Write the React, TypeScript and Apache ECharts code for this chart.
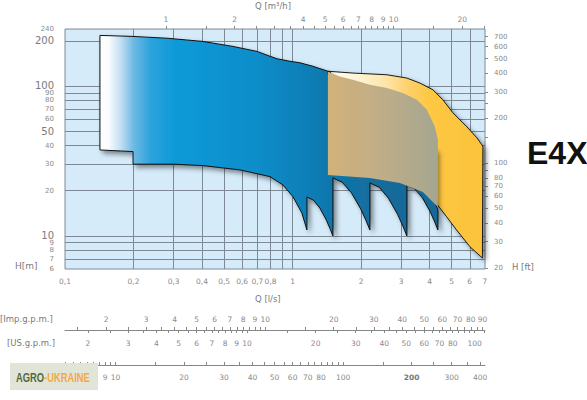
import React, { useEffect, useRef } from "react";
import * as echarts from "echarts";

// ---------- axis values ----------
const qLabelsLs = [0.1, 0.2, 0.3, 0.4, 0.5, 0.6, 0.7, 0.8, 1, 2, 3, 4, 5, 6, 7];
const qGridLs = [0.2, 0.3, 0.4, 0.5, 0.6, 0.7, 0.8, 0.9, 1, 2, 3, 4, 5, 6];
const hLabelsM = [6, 7, 8, 9, 10, 20, 30, 40, 50, 60, 70, 80, 90, 100, 200, 240];
const hBigM = [10, 50, 100, 200];
const hGridM = [7, 8, 9, 10, 20, 30, 40, 50, 60, 70, 80, 90, 100, 200];
const hLabelsFt = [20, 30, 40, 50, 60, 70, 80, 100, 200, 300, 400, 500, 600, 700];
const hTicksFt = [20, 30, 40, 50, 60, 70, 80, 90, 100, 150, 200, 250, 300, 400, 500, 600, 700];
const qLabelsM3h = [1, 2, 4, 5, 6, 7, 8, 9, 10, 20];
const qTicksM3h = [1, 1.5, 2, 2.5, 3, 3.5, 4, 4.5, 5, 5.5, 6, 6.5, 7, 7.5, 8, 8.5, 9, 9.5, 10, 15, 20, 25];
const impLabels = [2, 3, 4, 5, 6, 7, 8, 9, 10, 20, 30, 40, 50, 60, 70, 80, 90];
const impTicks = [1.5, 2, 2.5, 3, 3.5, 4, 4.5, 5, 5.5, 6, 6.5, 7, 7.5, 8, 8.5, 9, 9.5, 10, 15, 20, 25, 30, 35, 40, 45, 50, 55, 60, 65, 70, 75, 80, 85, 90];
const usLabels = [2, 3, 4, 5, 6, 7, 8, 9, 10, 20, 30, 40, 50, 60, 70, 80, 100];
const usTicks = [2, 2.5, 3, 3.5, 4, 4.5, 5, 5.5, 6, 6.5, 7, 7.5, 8, 8.5, 9, 9.5, 10, 15, 20, 25, 30, 35, 40, 45, 50, 55, 60, 65, 70, 75, 80, 85, 90, 95, 100, 110];
const lminLabels = [9, 10, 20, 30, 40, 50, 60, 70, 80, 100, 200, 300, 400];
const lminTicks = [6, 6.5, 7, 7.5, 8, 8.5, 9, 9.5, 10, 15, 20, 25, 30, 35, 40, 45, 50, 55, 60, 65, 70, 75, 80, 85, 90, 95, 100, 150, 200, 250, 300, 350, 400];

// ---------- curve data: [Q l/s, H m] ----------
const blueOutline = [
  [0.1424, 217.5], [0.199, 214.1], [0.2805, 208.3], [0.4036, 198.3], [0.5468, 183.6],
  [0.6969, 170.1], [0.7948, 157.9], [0.853, 152], [0.9729, 146.2], [1.077, 142.8],
  [1.228, 135.3], [1.429, 125.4],
  [1.489, 87.3], [4.26, 37.4], [4.26, 16.06], [4.347, 14.87],
  [4.347, 10.93], [4.213, 12.33], [4.022, 14.47], [3.716, 17.92], [3.438, 20.64], [3.177, 21.85],
  [3.177, 9.97], [3.06, 11.48], [2.894, 13.86], [2.635, 17.83], [2.401, 21.09], [2.185, 22.53],
  [2.185, 10.93], [2.105, 12.56], [1.991, 15.1], [1.812, 19.35], [1.651, 22.78], [1.503, 24.33],
  [1.503, 9.97], [1.464, 11.05], [1.407, 12.71], [1.318, 15.29], [1.234, 17.29], [1.156, 18.16],
  [1.156, 10.93], [1.098, 14.2], [1.003, 18.25], [0.9066, 21.85], [0.7948, 24.83],
  [0.5869, 27.53], [0.4036, 29.4], [0.3, 30.05], [0.199, 30.05], [0.199, 36.48], [0.1424, 37.4],
];
const tanPatch = [
  [1.429, 124.4], [1.613, 115.7], [1.84, 110], [2.185, 101.8], [2.595, 96.8], [3.051, 89.6],
  [3.515, 80.8], [3.89, 69.3], [4.216, 53.6], [4.347, 43.7], [4.347, 15.57],
  [3.735, 19.62], [2.96, 22.53], [2.185, 24.33], [1.429, 25.49],
];
const yellowEnvelope = [
  [1.429, 125.4], [1.84, 121.9], [2.595, 118.8], [3.177, 112.9], [3.624, 104.5], [4.132, 94.3],
  [4.572, 80.8], [5.058, 66.2], [5.83, 53.3], [6.449, 45.05], [6.784, 40.45], [6.853, 39.2],
  [6.818, 7.105], [6.009, 8.453], [5.252, 10.93], [4.747, 13.41], [4.36, 15.81],
  [4.26, 17.35], [2.96, 24.33], [2.185, 26.7], [1.473, 27.53], [1.473, 122.5],
];

const FONT = "'DejaVu Sans', Verdana, sans-serif";
const GRID_COL = "#7d8a96";
const LABEL_COL = "#8a8a8a";

function fmt(v: number) {
  return String(parseFloat(Number(v).toPrecision(6)));
}

function polySeries(name: string, pts: number[][], style: any) {
  return {
    type: "custom",
    name,
    coordinateSystem: "cartesian2d",
    xAxisIndex: 0,
    yAxisIndex: 0,
    data: pts,
    encode: { x: 0, y: 1 },
    z: 2,
    silent: true,
    clip: false,
    renderItem: (params: any, api: any) => {
      if (params.dataIndex !== 0) return null;
      const points = pts.map((p) => api.coord(p));
      return { type: "polygon", shape: { points }, style };
    },
  };
}

export default function App() {
  const ref = useRef<HTMLDivElement>(null);
  useEffect(() => {
    if (!ref.current) return;
    const chart = echarts.init(ref.current, undefined, { renderer: "svg" });
    const G = echarts.graphic as any;
    const blueFill = new G.LinearGradient(0, 0, 1, 0, [
      { offset: 0, color: "#ffffff" },
      { offset: 0.025, color: "#fafcfe" },
      { offset: 0.06, color: "#c6e0f2" },
      { offset: 0.1, color: "#6cb9e5" },
      { offset: 0.15, color: "#2ca3dc" },
      { offset: 0.22, color: "#0e9ad8" },
      { offset: 0.45, color: "#0a8ecb" },
      { offset: 0.6, color: "#0a80b9" },
      { offset: 0.68, color: "#0e77ac" },
      { offset: 0.82, color: "#146c9c" },
      { offset: 1, color: "#176896" },
    ]);
    const tanFill = new G.LinearGradient(0, 0, 1, 0, [
      { offset: 0, color: "#d2b27a" },
      { offset: 0.5, color: "#bfad88" },
      { offset: 1, color: "#a4a690" },
    ]);
    const yellowFill = new G.LinearGradient(0, 0, 1, 0, [
      { offset: 0, color: "#fffef8" },
      { offset: 0.2, color: "#fef3d4" },
      { offset: 0.38, color: "#fde4a6" },
      { offset: 0.52, color: "#fdd06a" },
      { offset: 0.65, color: "#fdc844" },
      { offset: 1, color: "#fcc23a" },
    ]);
    const shadow = {
      shadowBlur: 5,
      shadowColor: "rgba(0,0,0,0.45)",
      shadowOffsetX: 3,
      shadowOffsetY: 3,
    };

    const logAxisBase = {
      type: "log",
      logBase: 10,
      gridIndex: 0,
      splitLine: { show: false },
      axisLine: { show: false },
    };

    const option: any = {
      animation: false,
      backgroundColor: "#ffffff",
      grid: {
        left: 65,
        top: 29,
        width: 420,
        height: 240,
        show: true,
        backgroundColor: "#d6ebf9",
        borderColor: GRID_COL,
        borderWidth: 1,
        containLabel: false,
        outerBoundsMode: "none",
      },
      xAxis: [
        {
          ...logAxisBase,
          position: "bottom",
          min: 0.09999,
          max: 7.0005,
          axisTick: { show: false, customValues: qGridLs },
          splitLine: { show: true, lineStyle: { color: GRID_COL, width: 1 } },
          axisLabel: {
            customValues: qLabelsLs,
            formatter: (v: number) => fmt(v).replace(".", ","),
            fontSize: 7.5,
            fontFamily: FONT,
            color: LABEL_COL,
            margin: 8,
            hideOverlap: false,
          },
        },
        {
          ...logAxisBase,
          position: "top",
          min: 0.36,
          max: 25.202,
          axisTick: { show: true, length: 3, customValues: qTicksM3h, lineStyle: { color: "#888" } },
          axisLabel: {
            customValues: qLabelsM3h,
            formatter: (v: number) => fmt(v),
            fontSize: 7.5,
            fontFamily: FONT,
            color: LABEL_COL,
            margin: 6,
            hideOverlap: false,
          },
        },
        {
          ...logAxisBase,
          position: "bottom",
          offset: 61,
          min: 1.31982,
          max: 92.39,
          axisLine: { show: true, lineStyle: { color: "#888", width: 1 } },
          axisTick: { show: true, inside: true, length: 3, customValues: impTicks, lineStyle: { color: "#888" } },
          axisLabel: {
            inside: true,
            customValues: impLabels,
            formatter: (v: number) => fmt(v),
            fontSize: 7.5,
            fontFamily: FONT,
            color: LABEL_COL,
            margin: 7,
            hideOverlap: false,
          },
        },
        {
          ...logAxisBase,
          position: "bottom",
          offset: 61,
          min: 1.585,
          max: 110.95,
          axisTick: { show: true, length: 3, customValues: usTicks, lineStyle: { color: "#888" } },
          axisLabel: {
            customValues: usLabels,
            formatter: (v: number) => fmt(v),
            fontSize: 7.5,
            fontFamily: FONT,
            color: LABEL_COL,
            margin: 9,
            hideOverlap: false,
          },
        },
        {
          ...logAxisBase,
          position: "bottom",
          offset: 96,
          min: 5.9995,
          max: 420.03,
          axisLine: { show: true, lineStyle: { color: "#888", width: 1 } },
          axisTick: { show: true, inside: true, length: 3, customValues: lminTicks, lineStyle: { color: "#888" } },
          axisLabel: {
            customValues: lminLabels,
            formatter: (v: number) => (Math.round(v) === 200 ? `{b|${fmt(v)}}` : fmt(v)),
            rich: { b: { fontWeight: "bold", fontSize: 7.5, fontFamily: FONT, color: "#777" } },
            fontSize: 7.5,
            fontFamily: FONT,
            color: LABEL_COL,
            margin: 8,
            hideOverlap: false,
          },
        },
      ],
      yAxis: [
        {
          ...logAxisBase,
          position: "left",
          min: 5.9995,
          max: 240.02,
          axisTick: { show: false, customValues: hGridM },
          splitLine: { show: true, lineStyle: { color: GRID_COL, width: 1 } },
          axisLabel: {
            customValues: hLabelsM,
            formatter: (v: number) =>
              hBigM.includes(Math.round(v)) ? `{b|${fmt(v)}}` : `{s|${fmt(v)}}`,
            rich: {
              b: { fontSize: 10, lineHeight: 8, fontFamily: FONT, color: "#7a7a7a" },
              s: { fontSize: 7, lineHeight: 5.5, fontFamily: FONT, color: LABEL_COL },
            },
            margin: 11,
            hideOverlap: false,
          },
        },
        {
          ...logAxisBase,
          position: "right",
          min: 19.685,
          max: 787.4,
          axisTick: { show: true, length: 3, customValues: hTicksFt, lineStyle: { color: "#888" } },
          axisLabel: {
            customValues: hLabelsFt,
            formatter: (v: number) => fmt(v),
            fontSize: 7,
            fontFamily: FONT,
            color: LABEL_COL,
            margin: 9,
            hideOverlap: false,
          },
        },
      ],
      series: [
        polySeries("yellow", yellowEnvelope, { fill: yellowFill, stroke: "#1a1a1a", lineWidth: 1, ...shadow }),
        polySeries("blue", blueOutline, { fill: blueFill, stroke: "#111", lineWidth: 1, ...shadow }),
        polySeries("tan", tanPatch, { fill: tanFill }),
      ],
      graphic: [
        { type: "text", x: 255, y: 6, style: { text: "Q [m³/h]", fill: "#7a7a7a", fontSize: 8.5, fontFamily: FONT, verticalAlign: "middle" } },
        { type: "text", x: 15, y: 266, style: { text: "H[m]", fill: "#7a7a7a", fontSize: 9, fontFamily: FONT, verticalAlign: "middle" } },
        { type: "text", x: 512, y: 267, style: { text: "H [ft]", fill: "#7a7a7a", fontSize: 8.5, fontFamily: FONT, verticalAlign: "middle" } },
        { type: "text", x: 255, y: 299, style: { text: "Q [l/s]", fill: "#7a7a7a", fontSize: 8.5, fontFamily: FONT, verticalAlign: "middle" } },
        { type: "text", x: 0, y: 319, style: { text: "[Imp.g.p.m.]", fill: "#7a7a7a", fontSize: 8.5, fontFamily: FONT, verticalAlign: "middle" } },
        { type: "text", x: 7, y: 343, style: { text: "[US.g.p.m.]", fill: "#7a7a7a", fontSize: 8.5, fontFamily: FONT, verticalAlign: "middle" } },
        { type: "text", x: 527, y: 153, style: { text: "E4X", fill: "#111111", fontSize: 32, fontWeight: "bold", fontFamily: "'Liberation Sans', Arial, sans-serif", verticalAlign: "middle" } },
        { type: "rect", shape: { x: 10, y: 363, width: 88, height: 27 }, style: { fill: "#e1e5d8" }, z: 100 },
        {
          type: "text",
          x: 16,
          y: 377,
          scaleX: 0.72,
          z: 101,
          style: {
            text: "{a|AGRO}{b|-UKRAINE}",
            verticalAlign: "middle",
            rich: {
              a: { fill: "#56683a", fontSize: 13, fontWeight: "bold", fontFamily: "'Liberation Sans', Arial, sans-serif" },
              b: { fill: "#f1a947", fontSize: 13, fontWeight: "bold", fontFamily: "'Liberation Sans', Arial, sans-serif" },
            },
          },
        },
      ],
    };
    chart.setOption(option);
    return () => chart.dispose();
  }, []);
  return (
    <div
      ref={ref}
      style={{ position: "absolute", left: 0, top: 0, width: 587, height: 400, background: "#fff" }}
    />
  );
}
